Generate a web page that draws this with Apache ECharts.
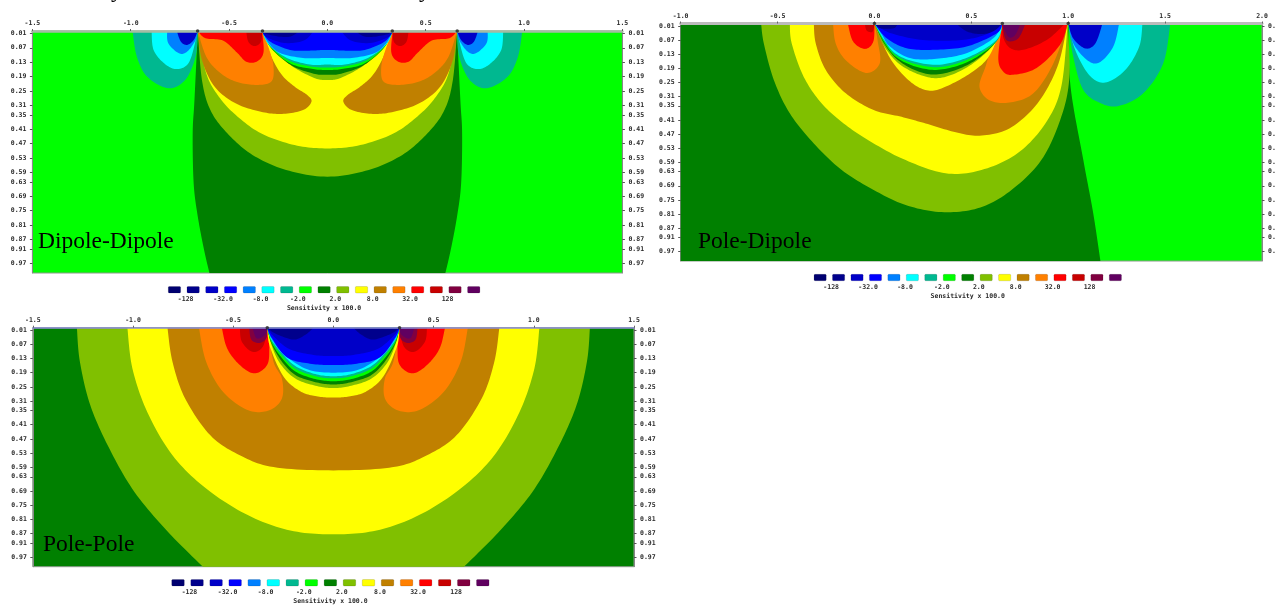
<!DOCTYPE html>
<html>
<head>
<meta charset="utf-8">
<style>html,body{margin:0;padding:0;background:#fff}#c{width:1276px;height:605px;filter:blur(0.4px)}</style>
<script src="https://cdn.jsdelivr.net/npm/echarts@6/dist/echarts.min.js"></script>
</head>
<body>
<div id="c"></div>
<script>
// ---- colour scale, swatches and tick labels
const paletteColors = ['#000070','#00008c','#0000c8','#0000ff','#0080ff','#00ffff','#00b890','#00ff00','#008000','#80c000','#ffff00','#c08000','#ff8000','#ff0000','#c80000','#800040','#600060'];
const legendLabelPositions = [1.1,3.1,5.1,7.1,9.1,11.1,13.1,15.1];
const legendLabels = ['-128','-32.0','-8.0','-2.0','2.0','8.0','32.0','128'];
const depthTicks = [0.01,0.07,0.13,0.19,0.25,0.31,0.35,0.41,0.47,0.53,0.59,0.63,0.69,0.75,0.81,0.87,0.91,0.97];

// ---- Dipole-Dipole contours: [position, depth], left half (the section is symmetric). A repeated point is a corner.
const ddElectrodes = [-0.66,-0.33,0.33,0.66];
const ddDarkGreen = [[-0.659,0],[-0.676,.288],[-0.685,.427],[-0.68,.636],[-0.659,.775],[-0.627,.914],[-0.597,1.02],[-0.597,1.02]];
const ddOlive = [[-0.659,0],[-0.638,.204],[-0.595,.33],[-0.509,.427],[-0.381,.517],[-0.21,.58],[0,.608]];
const ddYellow = [[-0.659,0],[-0.616,.177],[-0.552,.274],[-0.467,.35],[-0.338,.427],[-0.167,.476],[0,.49]];
const ddBrown = [[-0.659,0],[-0.638,.121],[-0.574,.232],[-0.467,.302],[-0.338,.337],[-0.231,.346],[-0.124,.33],[-0.081,.295],[-0.103,.267],[-0.167,.232],[-0.231,.184],[-0.285,.107],[-0.332,0]];
const ddOrange = [[-0.659,0],[-0.616,.107],[-0.552,.17],[-0.467,.211],[-0.36,.225],[-0.285,.211],[-0.274,.149],[-0.295,.079],[-0.332,0]];
const ddRed = [[-0.659,0],[-0.62,.03],[-0.531,.04],[-0.46,.09],[-0.413,.128],[-0.36,.128],[-0.325,.09],[-0.332,0]];
const ddDarkRed = [[-0.413,0],[-0.402,.045],[-0.37,.063],[-0.338,.045],[-0.332,0]];
const ddCapOlive = [[-0.332,0],[-0.28,.078],[-0.17,.152],[-0.06,.198],[0,.204]];
const ddCapDark = [[-0.332,0],[-0.285,.072],[-0.18,.145],[-0.07,.178],[0,.183]];
const ddCapGreen = [[-0.332,0],[-0.29,.066],[-0.19,.135],[-0.08,.158],[0,.1625]];
const ddCapTeal = [[-0.332,0],[-0.295,.06],[-0.2,.122],[-0.085,.148],[0,.152]];
const ddCapCyan = [[-0.332,0],[-0.3,.055],[-0.206,.1125],[-0.089,.14],[0,.14]];
const ddCapLight = [[-0.332,0],[-0.3,.05],[-0.24,.092],[-0.124,.1125],[0,.1125]];
const ddCapBlue = [[-0.332,0],[-0.292,.044],[-0.19,.079],[-0.1,.082],[0,.079]];
const ddCapDeep = [[-0.332,0],[-0.31,.025],[-0.22,.05],[-0.12,.04],[-0.07,0]];
const ddCapNavy = [[-0.332,0],[-0.3,.015],[-0.2,.025],[-0.14,0]];
const ddOuterTeal = [[-0.991,0],[-0.969,.107],[-0.916,.191],[-0.809,.239],[-0.723,.204],[-0.67,.107],[-0.659,0]];
const ddOuterCyan = [[-0.894,0],[-0.884,.079],[-0.83,.135],[-0.766,.159],[-0.702,.128],[-0.659,0]];
const ddOuterLight = [[-0.815,0],[-0.809,.051],[-0.755,.093],[-0.713,.086],[-0.67,.038],[-0.659,0]];
const ddOuterBlue = [[-0.766,0],[-0.745,.045],[-0.713,.058],[-0.68,.038],[-0.659,0]];

// ---- Pole-Dipole contours
const pdElectrodes = [0,0.66,1];
const pdDarkGreen = [[1,0],[1.012,.269],[1.078,.581],[1.129,.807],[1.168,1.02],[1.168,1.02],[-1,1.02],[-1,1.02],[-1,0]];
const pdOlive = [[-.585,0],[-.571,.085],[-.519,.241],[-.437,.382],[-.313,.51],[-.169,.623],[-.004,.708],[.161,.772],[.346,.802],[.532,.786],[.696,.715],[.861,.581],[.964,.397],[1.006,.227],[.997,0]];
const pdYellow = [[-.437,0],[-.427,.085],[-.365,.227],[-.272,.34],[-.148,.432],[-.004,.51],[.161,.581],[.367,.637],[.552,.623],[.738,.552],[.882,.425],[.964,.269],[.997,0]];
const pdBrown = [[-.313,0],[-.303,.085],[-.251,.198],[-.148,.297],[-.004,.368],[.14,.397],[.264,.425],[.408,.46],[.542,.477],[.696,.446],[.841,.34],[.944,.184],[.997,0]];
const pdLeftOrange = [[-.214,0],[-.2,.085],[-.148,.156],[-.045,.21],[.027,.17],[.016,.071],[0,0]];
const pdLeftRed = [[-.138,0],[-.11,.077],[-.049,.108],[-.006,.077],[0,0]];
const pdLeftDarkRed = [[-.05,0],[-.04,.03],[-.01,.035],[0,0]];
const pdRightOrange = [[.666,0],[.61,.09],[.573,.184],[.542,.269],[.593,.326],[.696,.336],[.82,.297],[.923,.17],[.997,0]];
const pdRightRed = [[.66,0],[.639,.147],[.664,.204],[.716,.218],[.837,.189],[.957,.091],[.997,0]];
const pdRightDarkRed = [[.66,0],[.665,.06],[.7,.104],[.768,.112],[.889,.07],[.985,0]];
const pdRightMaroon = [[.66,0],[.68,.07],[.74,.065],[.78,0]];
const pdRightPurple = [[.66,0],[.69,.056],[.725,.05],[.754,0]];
const pdCapYellow = [[0,0],[.08,.147],[.183,.246],[.278,.285],[.372,.267],[.508,.204],[.596,.133],[.66,0]];
const pdCapOlive = [[0,0],[.045,.09],[.125,.17],[.24,.22],[.35,.23],[.49,.18],[.615,.09],[.66,0]];
const pdCapDark = [[0,0],[.05,.085],[.12,.155],[.23,.205],[.34,.215],[.49,.172],[.62,.085],[.66,0]];
const pdCapGreen = [[0,0],[.05,.08],[.115,.145],[.22,.185],[.34,.196],[.49,.16],[.625,.08],[.66,0]];
const pdCapTeal = [[0,0],[.05,.075],[.11,.135],[.21,.172],[.34,.185],[.49,.15],[.63,.076],[.66,0]];
const pdCapCyan = [[0,0],[.05,.07],[.106,.126],[.2,.161],[.338,.175],[.493,.14],[.63,.07],[.66,0]];
const pdCapLight = [[0,0],[.04,.05],[.08,.098],[.183,.147],[.32,.15],[.475,.126],[.613,.063],[.66,0]];
const pdCapBlue = [[0,0],[.063,.063],[.166,.105],[.3,.112],[.475,.098],[.63,.042],[.66,0]];
const pdCapDeep = [[0,0],[.08,.04],[.25,.07],[.45,.07],[.58,.045],[.66,0]];
const pdCapNavyR = [[.42,0],[.48,.035],[.56,.045],[.62,.03],[.66,0]];
const pdCapNavyL = [[0,0],[.03,.02],[.1,.02],[.12,0]];
const pdOuterTeal = [[1,0],[1.026,.142],[1.078,.283],[1.17,.34],[1.263,.35],[1.387,.297],[1.49,.17],[1.527,0]];
const pdOuterCyan = [[1,0],[1.036,.113],[1.109,.22],[1.191,.251],[1.294,.198],[1.366,.099],[1.383,0]];
const pdOuterLight = [[1,0],[1.026,.085],[1.098,.156],[1.16,.166],[1.232,.099],[1.263,0]];
const pdOuterBlue = [[1,0],[1.026,.064],[1.088,.106],[1.14,.085],[1.177,0]];

// ---- Pole-Pole contours: left half
const ppElectrodes = [-0.33,0.33];
const ppOlive = [[-1.28,0],[-1.265,.144],[-1.213,.328],[-1.118,.511],[-.992,.695],[-.824,.864],[-.64,1.02],[-.64,1.02]];
const ppYellow = [[-1.028,0],[-1.003,.172],[-.929,.356],[-.803,.539],[-.635,.68],[-.425,.793],[-.215,.857],[0,.873]];
const ppBrown = [[-.828,0],[-.803,.144],[-.74,.299],[-.614,.455],[-.467,.539],[-.299,.589],[0,.603]];
const ppOrange = [[-.671,0],[-.635,.144],[-.551,.271],[-.425,.349],[-.32,.349],[-.257,.299],[-.257,.215],[-.299,.144],[-.327,0]];
const ppRed = [[-.557,0],[-.53,.088],[-.467,.158],[-.394,.193],[-.331,.158],[-.32,.088],[-.327,0]];
const ppDarkRed = [[-.467,0],[-.457,.059],[-.404,.102],[-.352,.08],[-.327,0]];
const ppMaroon = [[-.42,0],[-.41,.05],[-.37,.065],[-.335,.045],[-.327,0]];
const ppPurple = [[-.404,0],[-.383,.045],[-.341,.031],[-.327,0]];
const ppCapYellow = [[-.33,0],[-.317,.08],[-.25,.205],[-.167,.268],[-.084,.29],[0,.295]];
const ppCapOlive = [[-.33,0],[-.31,.07],[-.267,.15],[-.19,.215],[-.09,.245],[0,.255]];
const ppCapDark = [[-.33,0],[-.31,.065],[-.26,.14],[-.19,.2],[-.09,.23],[0,.24]];
const ppCapGreen = [[-.33,0],[-.31,.06],[-.26,.125],[-.19,.185],[-.09,.217],[0,.226]];
const ppCapTeal = [[-.33,0],[-.31,.055],[-.26,.115],[-.19,.173],[-.09,.205],[0,.214]];
const ppCapCyan = [[-.33,0],[-.31,.05],[-.26,.105],[-.19,.162],[-.09,.196],[0,.205]];
const ppCapLight = [[-.33,0],[-.31,.045],[-.25,.11],[-.134,.175],[0,.19]];
const ppCapBlue = [[-.33,0],[-.31,.04],[-.233,.125],[-.117,.152],[0,.158]];
const ppCapDeep = [[-.33,0],[-.3,.035],[-.22,.09],[-.1,.115],[0,.12]];
const ppCapNavy = [[-.33,0],[-.29,.025],[-.2,.05],[-.14,.03],[-.1,0]];

// the traced left half reflected about position 0
const flip = p => [-p[0], p[1]];
const bowl = h => { const r = h.slice().reverse(); if (r[0][0] === 0) r.shift(); return h.concat(r.map(flip)); };
const twin = l => l.map(flip);

// [contour, palette index], painted in order
const ddBands = [[bowl(ddDarkGreen),8],[bowl(ddOlive),9],[bowl(ddYellow),10],
  [ddBrown,11],[twin(ddBrown),11],[ddOrange,12],[twin(ddOrange),12],[ddRed,13],[twin(ddRed),13],[ddDarkRed,14],[twin(ddDarkRed),14],
  [bowl(ddCapOlive),9],[bowl(ddCapDark),8],[bowl(ddCapGreen),7],[bowl(ddCapTeal),6],[bowl(ddCapCyan),5],[bowl(ddCapLight),4],[bowl(ddCapBlue),3],
  [ddCapDeep,2],[twin(ddCapDeep),2],[ddCapNavy,1],[twin(ddCapNavy),1],
  [ddOuterTeal,6],[twin(ddOuterTeal),6],[ddOuterCyan,5],[twin(ddOuterCyan),5],[ddOuterLight,4],[twin(ddOuterLight),4],[ddOuterBlue,2],[twin(ddOuterBlue),2]];
const pdBands = [[pdDarkGreen,8],[pdOlive,9],[pdYellow,10],[pdBrown,11],
  [pdLeftOrange,12],[pdLeftRed,13],[pdLeftDarkRed,14],
  [pdRightOrange,12],[pdRightRed,13],[pdRightDarkRed,14],[pdRightMaroon,15],[pdRightPurple,16],
  [pdCapYellow,10],[pdCapOlive,9],[pdCapDark,8],[pdCapGreen,7],[pdCapTeal,6],[pdCapCyan,5],[pdCapLight,4],[pdCapBlue,3],[pdCapDeep,2],[pdCapNavyR,1],[pdCapNavyL,1],
  [pdOuterTeal,6],[pdOuterCyan,5],[pdOuterLight,4],[pdOuterBlue,2]];
const ppBands = [[bowl(ppOlive),9],[bowl(ppYellow),10],[bowl(ppBrown),11],
  [ppOrange,12],[twin(ppOrange),12],[ppRed,13],[twin(ppRed),13],[ppDarkRed,14],[twin(ppDarkRed),14],[ppMaroon,15],[twin(ppMaroon),15],[ppPurple,16],[twin(ppPurple),16],
  [bowl(ppCapYellow),10],[bowl(ppCapOlive),9],[bowl(ppCapDark),8],[bowl(ppCapGreen),7],[bowl(ppCapTeal),6],[bowl(ppCapCyan),5],[bowl(ppCapLight),4],[bowl(ppCapBlue),3],[bowl(ppCapDeep),2],[ppCapNavy,1],[twin(ppCapNavy),1]];

const panels = [
  {title:'Dipole-Dipole', bands:ddBands, electrodes:ddElectrodes, xMin:-1.5, xMax:1.5, bg:'#00ff00', left:32.4, top:31, width:590, height:242, lineColor:'#a4bca4', lineWidth:2.5,
   titleLeft:38, titleTop:230, bar:{left:165.1, top:286.5, width:318}},
  {title:'Pole-Dipole', bands:pdBands, electrodes:pdElectrodes, xMin:-1, xMax:2, bg:'#00ff00', left:680.7, top:23.5, width:581.3, height:237.5, lineColor:'#bbbbbb', lineWidth:3,
   titleLeft:698, titleTop:230, bar:{left:810.9, top:274.3, width:313.7}},
  {title:'Pole-Pole', bands:ppBands, electrodes:ppElectrodes, xMin:-1.5, xMax:1.5, bg:'#008000', left:32.8, top:327.7, width:601.2, height:239, lineColor:'#8c8cd8', lineWidth:1.5,
   titleLeft:43, titleTop:533, bar:{left:168.5, top:579.5, width:323.8}}
];

// Catmull-Rom through the traced points; repeated points stay sharp
function smooth(pts){
  const out = [], n = pts.length;
  for (let i = 0; i < n - 1; i++) {
    const a = pts[Math.max(i-1,0)], b = pts[i], c = pts[i+1], d = pts[Math.min(i+2,n-1)];
    if (b[0] === c[0] && b[1] === c[1]) continue;
    for (let k = 0; k < 12; k++) {
      const t = k/12, t2 = t*t, t3 = t2*t;
      out.push([0,1].map(j => 0.5*(2*b[j] + (c[j]-a[j])*t + (2*a[j]-5*b[j]+4*c[j]-d[j])*t2 + (3*b[j]-a[j]-3*c[j]+d[j])*t3)));
    }
  }
  out.push(pts[n-1]);
  return out;
}

const axisFont = {fontFamily:'"DejaVu Sans Mono"', fontWeight:'bold', fontSize:6.5, color:'#2a2a2a'};
const option = {animation:false, backgroundColor:'#fff', grid:[], xAxis:[], yAxis:[], series:[], title:[]};

panels.forEach((p,k) => {
  option.grid.push({left:p.left, top:p.top, width:p.width, height:p.height, outerBoundsMode:'none', show:true, backgroundColor:p.bg, borderColor:'#8a9a8a', borderWidth:1});
  option.xAxis.push({gridIndex:k, type:'value', position:'top', min:p.xMin, max:p.xMax, interval:0.5, splitLine:{show:false},
    axisLine:{show:true, onZero:false, lineStyle:{color:p.lineColor, width:p.lineWidth}}, axisTick:{show:true, length:2, lineStyle:{color:'#666'}},
    axisLabel:Object.assign({margin:4, showMinLabel:true, showMaxLabel:true, formatter:v=>v.toFixed(1)}, axisFont), z:5});
  ['left','right'].forEach(side => option.yAxis.push({gridIndex:k, type:'value', position:side, inverse:true, min:0, max:1.01, splitLine:{show:false},
    axisLine:{show:true, onZero:false, lineStyle:{color:'#888', width:1}}, axisTick:{show:true, length:2.5, customValues:depthTicks, lineStyle:{color:'#555'}},
    axisLabel:Object.assign({margin:6, customValues:depthTicks, formatter:v=>v.toFixed(2)}, axisFont)}));
  p.bands.forEach(([pts,ci],b) => option.series.push({type:'custom', name:p.title+' band '+b, xAxisIndex:k, yAxisIndex:2*k, clip:true, silent:true, z:2,
    data:pts, encode:{x:0,y:1},
    renderItem:(params,api) => {
      if (params.dataIndex !== 0) return null;
      return {type:'polygon', shape:{points:smooth(pts.map(q=>api.coord(q)))}, style:{fill:paletteColors[ci], stroke:null}};
    }}));
  option.series.push({type:'scatter', name:p.title+' electrodes', xAxisIndex:k, yAxisIndex:2*k, clip:false, silent:true, z:6, symbolSize:3.5,
    itemStyle:{color:'#222'}, data:p.electrodes.map(x=>[x,0])});
  option.title.push({text:p.title, left:p.titleLeft, top:p.titleTop, padding:0, textStyle:{fontFamily:'"Liberation Serif"', fontWeight:'normal', fontSize:23.5, color:'#000'}});
});
// tails of the caption line cut off by the top edge of the page
[111,419].forEach(x => option.title.push({text:'y', left:x, top:-21, padding:0, textStyle:{fontFamily:'"Liberation Serif"', fontWeight:'normal', fontSize:23.5, color:'#000'}}));
panels.forEach((p,k) => {
  const g = 3+k;
  option.grid.push({left:p.bar.left, top:p.bar.top, width:p.bar.width, height:6.5, outerBoundsMode:'none'});
  option.xAxis.push({gridIndex:g, type:'value', min:0, max:17, name:'Sensitivity x 100.0', nameLocation:'middle', nameGap:12,
    nameTextStyle:axisFont, splitLine:{show:false}, axisLine:{show:false}, axisTick:{show:false},
    axisLabel:Object.assign({margin:3, customValues:legendLabelPositions, formatter:v=>legendLabels[Math.round((v-1.1)/2)]}, axisFont)});
  option.yAxis.push({gridIndex:g, type:'value', min:0, max:1, show:false});
  option.series.push({type:'custom', name:p.title+' scale', xAxisIndex:g, yAxisIndex:g+3, silent:true,
    data:paletteColors.map((c,i)=>[i]), encode:{x:0},
    renderItem:(params,api) => {
      const i = api.value(0), a = api.coord([i+0.17,1]), b = api.coord([i+0.83,0]);
      return {type:'rect', shape:{x:a[0], y:a[1], width:b[0]-a[0], height:b[1]-a[1], r:1}, style:{fill:paletteColors[i], stroke:'rgba(0,0,0,0.25)', lineWidth:0.5}};
    }});
});

echarts.init(document.getElementById('c'), null, {renderer:'canvas'}).setOption(option);
</script>
</body>
</html>
